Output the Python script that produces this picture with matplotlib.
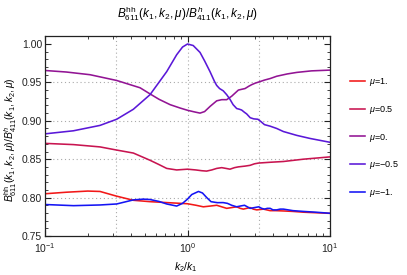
import numpy as np
import matplotlib
matplotlib.use("Agg")
import matplotlib.pyplot as plt
from matplotlib.ticker import LogLocator, MultipleLocator, NullFormatter

plt.rcParams['font.family'] = ['Liberation Sans', 'DejaVu Sans']
plt.rcParams['mathtext.fontset'] = 'custom'
plt.rcParams['mathtext.rm'] = 'Liberation Sans'
plt.rcParams['mathtext.it'] = 'Liberation Sans:italic'
plt.rcParams['mathtext.bf'] = 'Liberation Sans:bold'

# log10(k2/k1) and ratio, one pair per mu
lk_p1 = [-1, -0.85, -0.7, -0.614, -0.5, -0.38, -0.263, -0.146, -0.05, 0, 0.06, 0.111, 0.16, 0.205,
         0.24, 0.275, 0.31, 0.345, 0.37, 0.392, 0.415, 0.439, 0.462, 0.486, 0.51, 0.533, 0.556, 0.58,
         0.62, 0.673, 0.74, 0.813, 0.9, 1.0]
r_p1 = [0.805, 0.807, 0.8085, 0.808, 0.802, 0.7965, 0.7947, 0.7935, 0.7925, 0.792, 0.790, 0.788, 0.789, 0.790,
        0.788, 0.786, 0.787, 0.788, 0.786, 0.785, 0.786, 0.787, 0.785, 0.784, 0.7845, 0.785, 0.784, 0.783,
        0.783, 0.7826, 0.782, 0.781, 0.7803, 0.7795]

lk_p05 = [-1, -0.8, -0.614, -0.5, -0.38, -0.263, -0.2, -0.146, -0.076, 0, 0.058, 0.1, 0.134, 0.17, 0.205,
          0.24, 0.27, 0.298, 0.33, 0.357, 0.38, 0.404, 0.439, 0.47, 0.5, 0.58, 0.673, 0.813, 1.0]
r_p05 = [0.8706, 0.869, 0.866, 0.862, 0.858, 0.8486, 0.843, 0.838, 0.836, 0.837, 0.836, 0.835, 0.8345, 0.836,
         0.838, 0.839, 0.838, 0.837, 0.839, 0.840, 0.8405, 0.841, 0.842, 0.844, 0.845, 0.846, 0.847, 0.850, 0.853]

lk_0 = [-1, -0.85, -0.684, -0.497, -0.333, -0.263, -0.2, -0.122, -0.05, 0, 0.05, 0.088, 0.12, 0.16, 0.205,
        0.24, 0.275, 0.31, 0.357, 0.38, 0.404, 0.43, 0.45, 0.475, 0.5, 0.54, 0.58, 0.626, 0.7, 0.767, 0.87, 1.0]
r_0 = [0.9655, 0.9635, 0.960, 0.9525, 0.943, 0.935, 0.928, 0.921, 0.9165, 0.9137, 0.9115, 0.910, 0.912, 0.919,
       0.926, 0.9275, 0.9275, 0.932, 0.940, 0.941, 0.942, 0.945, 0.947, 0.949, 0.9505, 0.953, 0.955, 0.958,
       0.961, 0.963, 0.965, 0.966]

lk_m05 = [-1, -0.8, -0.614, -0.497, -0.38, -0.263, -0.146, -0.076, -0.035, 0, 0.04, 0.088, 0.12, 0.158, 0.19,
          0.205, 0.225, 0.251, 0.275, 0.298, 0.32, 0.345, 0.365, 0.380, 0.40, 0.415, 0.44, 0.465, 0.494, 0.515,
          0.54, 0.56, 0.58, 0.626, 0.673, 0.767, 0.86, 1.0]
r_m05 = [0.883, 0.887, 0.894, 0.902, 0.915, 0.934, 0.964, 0.986, 0.996, 1.0, 0.998, 0.989, 0.978, 0.964, 0.951,
         0.946, 0.942, 0.939, 0.934, 0.928, 0.921, 0.916, 0.915, 0.914, 0.911, 0.909, 0.904, 0.9025, 0.902, 0.899,
         0.895, 0.894, 0.893, 0.89, 0.886, 0.881, 0.877, 0.872]

lk_m1 = [-1, -0.8, -0.614, -0.497, -0.38, -0.31, -0.263, -0.2, -0.146, -0.076, -0.035, 0, 0.03, 0.077, 0.105,
         0.135, 0.165, 0.21, 0.25, 0.28, 0.31, 0.345, 0.37, 0.40, 0.42, 0.44, 0.47, 0.5, 0.52, 0.54, 0.56, 0.58,
         0.6, 0.626, 0.65, 0.673, 0.74, 0.813, 0.9, 1.0]
r_m1 = [0.791, 0.7895, 0.7904, 0.7917, 0.797, 0.798, 0.7975, 0.795, 0.7917, 0.789, 0.7925, 0.798, 0.804, 0.808,
        0.806, 0.800, 0.7947, 0.7934, 0.7935, 0.7925, 0.790, 0.788, 0.789, 0.790, 0.788, 0.786, 0.787, 0.788,
        0.786, 0.785, 0.786, 0.786, 0.784, 0.784, 0.785, 0.785, 0.783, 0.782, 0.781, 0.7796]

labels = [r'$\mu$=1.', r'$\mu$=0.5', r'$\mu$=0.', r'$\mu$=$-$0.5', r'$\mu$=$-$1.']
colors = ['#f21818', '#c81450', '#921494', '#5a18d8', '#1414f4']
series = [(lk_p1, r_p1), (lk_p05, r_p05), (lk_0, r_0), (lk_m05, r_m05), (lk_m1, r_m1)]

grid_x = [10 ** -0.5, 1.0, 10 ** 0.5]
grid_y = [0.80, 0.85, 0.90, 0.95]

fig = plt.figure(figsize=(4.07, 2.75), dpi=100)
ax = fig.add_axes([45 / 407, 1 - 236 / 275, 285 / 407, 200 / 275])

for gx in grid_x:
    ax.axvline(gx, color='#aaaaaa', lw=0.8, ls=(0, (1, 2.5)), zorder=0)
for gy in grid_y:
    ax.axhline(gy, color='#aaaaaa', lw=0.8, ls=(0, (1, 2.5)), zorder=0)

for (lk, r), c, lab in zip(series, colors, labels):
    ax.plot(10 ** np.array(lk), r, color=c, lw=1.15, label=lab, solid_joinstyle='round')

ax.set_xscale('log')
ax.set_xlim(0.1, 10)
ax.set_ylim(0.75, 1.0104)
ax.yaxis.set_major_locator(MultipleLocator(0.05))
ax.yaxis.set_minor_locator(MultipleLocator(0.01))
ax.yaxis.set_major_formatter(matplotlib.ticker.FormatStrFormatter('%.2f'))
ax.xaxis.set_major_locator(LogLocator(base=10, numticks=5))
ax.xaxis.set_minor_locator(LogLocator(base=10, subs=np.arange(2, 10), numticks=20))
ax.xaxis.set_minor_formatter(NullFormatter())
ax.tick_params(which='both', direction='in', top=True, right=True, labelsize=7.5, colors='#222222')
ax.tick_params(axis='y', pad=2)
ax.tick_params(axis='x', pad=4)
ax.tick_params(which='major', length=4, width=0.8)
ax.tick_params(which='minor', length=2.5, width=0.6)
for s in ax.spines.values():
    s.set_linewidth(0.9)
    s.set_color('#222222')

fig.text(187.5 / 407, 1 - 14 / 275,
         r'$B^{\rm hh}_{611}(k_1,k_2,\mu)/B^{h}_{411}(k_1,k_2,\mu)$',
         ha='center', va='center', fontsize=8.5)
fig.text(186 / 407, 1 - 267 / 275, r'$k_2/k_1$', ha='center', va='center', fontsize=7.5)
fig.text(11 / 407, 1 - 140 / 275,
         r'$B^{\rm hh}_{611}(k_1,k_2,\mu)/B^{h}_{411}(k_1,k_2,\mu)$',
         ha='center', va='center', rotation=90, fontsize=7.5)

fig.legend(loc='center left', bbox_to_anchor=(346 / 407, 1 - 137.5 / 275), frameon=False,
           fontsize=6.5, handlelength=1.7, handletextpad=0.5, labelspacing=1.75, borderaxespad=0)

fig.savefig('out.png', dpi=100)
